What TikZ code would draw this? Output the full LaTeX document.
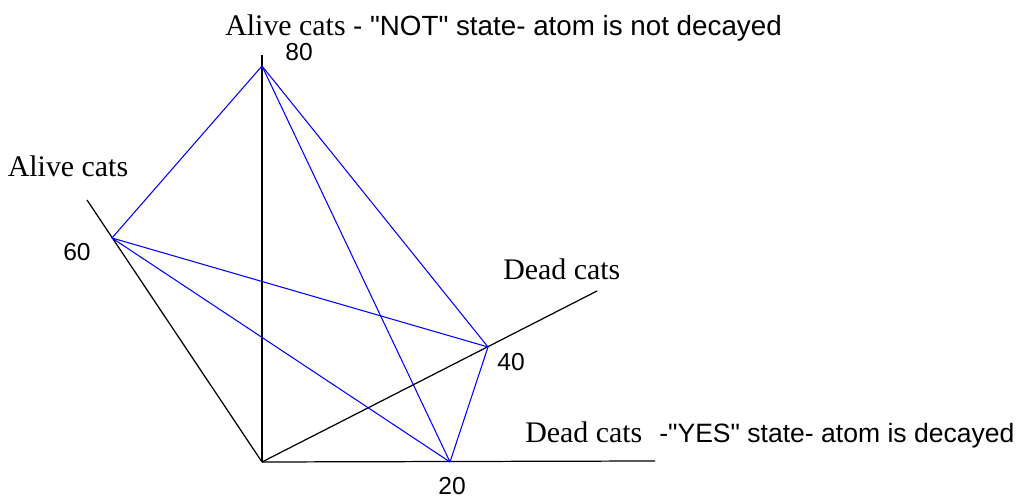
\documentclass[tikz,border=0pt]{standalone}
\usepackage{fontspec}
\setmainfont{Liberation Serif}
\setsansfont{Liberation Sans}[Ligatures=TeXOff]
\usetikzlibrary{positioning}
\begin{document}
\begin{tikzpicture}[
    axis/.style={black,line width=0.7pt},
    edge/.style={blue,line width=0.6pt},
    lbl/.style={font=\fontsize{17}{20}\selectfont\rmfamily,inner sep=0pt},
    num/.style={font=\fontsize{14}{16}\selectfont\sffamily,inner sep=0pt}]
  \useasboundingbox (0,0) rectangle (20.44,10.02);

  % axes
  \coordinate (o)  at (5.24,0.78);
  \coordinate (up) at (5.24,8.92);
  \coordinate (rt) at (13.10,0.80);
  \coordinate (dg) at (11.94,4.20);
  \coordinate (lf) at (1.74,6.02);
  \foreach \e in {up,rt,dg,lf} \draw[axis] (o)--(\e);

  % states on the axes
  \coordinate (p80) at (5.24,8.70);
  \coordinate (p60) at (2.24,5.26);
  \coordinate (p40) at (9.76,3.08);
  \coordinate (p20) at (9.00,0.78);
  \foreach \a/\b in {p80/p60,p80/p40,p80/p20,p60/p40,p60/p20,p40/p20}
    \draw[edge] (\a)--(\b);

  \node[num] (n80) at (5.98,8.98) {80};
  \node[num] (n60) at (1.54,4.98) {60};
  \node[num] (n40) at (10.22,2.78) {40};
  \node[num] (n20) at (9.04,0.30) {20};

  % axis names
  \node[lbl] (aliveL) at (1.36,6.70) {Alive cats};
  \node[lbl,anchor=base west] (deadR) at (10.06,4.42) {Dead cats};
  \node[lbl,anchor=base west] (aliveT) at (4.50,9.30)
    {Alive cats {\fontsize{15.8}{18}\selectfont\sffamily- "NOT" state- atom is not decayed}};
  \node[lbl,anchor=base west] (deadB) at (10.50,1.16)
    {Dead cats\hspace{0.34cm}{\fontsize{15.1}{18}\selectfont\sffamily-"YES" state- atom is decayed}};
\end{tikzpicture}
\end{document}
